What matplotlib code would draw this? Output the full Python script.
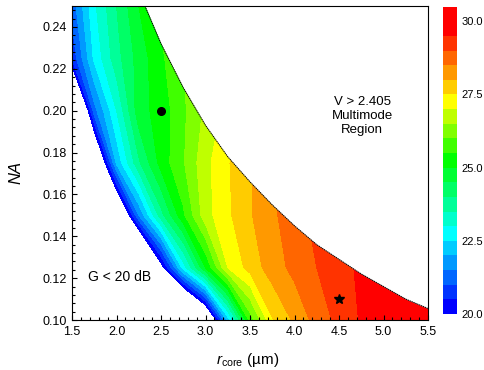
import numpy as np
import matplotlib
matplotlib.use("Agg")
import matplotlib.pyplot as plt

plt.rcParams['font.family'] = 'Liberation Sans'
plt.rcParams['mathtext.fontset'] = 'custom'
plt.rcParams['mathtext.rm'] = 'Liberation Sans'
plt.rcParams['mathtext.it'] = 'Liberation Sans:italic'

# grid: core radius (um) and numerical aperture
r_core = [1.5, 1.75, 2.0, 2.25, 2.5, 2.75, 3.0, 3.25, 3.5, 3.75, 4.0, 4.25, 4.5, 4.75, 5.0, 5.25, 5.5]
na = [0.100, 0.125, 0.150, 0.175, 0.200, 0.225, 0.250]

# gain G (dB) along each NA row
gain_na100 = [10.0, 11.0, 12.0, 13.0, 14.0, 15.5, 18.0, 22.2, 25.7, 27.45, 28.1, 28.7, 29.15, 29.55, 29.85, 30.1, 30.3]
gain_na125 = [11.0, 12.5, 14.0, 16.0, 19.6, 22.7, 25.0, 27.0, 27.7, 28.25, 28.65, 29.0, 29.3, 29.6, 29.9, 30.15, 30.4]
gain_na150 = [12.0, 14.0, 18.0, 21.5, 23.8, 25.4, 26.8, 27.4, 27.95, 28.4, 28.8, 29.15, 29.45, 29.75, 30.0, 30.2, 30.4]
gain_na175 = [13.0, 18.0, 22.1, 23.9, 25.2, 25.95, 26.85, 27.45, 27.95, 28.4, 28.75, 29.1, 29.4, 29.7, 29.95, 30.2, 30.4]
gain_na200 = [16.5, 21.3, 23.0, 24.8, 25.2, 25.9, 26.6, 27.2, 27.75, 28.2, 28.6, 28.95, 29.25, 29.55, 29.8, 30.05, 30.3]
gain_na225 = [20.6, 22.6, 23.8, 24.7, 25.4, 26.0, 26.6, 27.2, 27.7, 28.15, 28.55, 28.9, 29.2, 29.5, 29.75, 30.0, 30.25]
gain_na250 = [21.2, 22.9, 24.0, 25.0, 25.6, 26.2, 26.8, 27.3, 27.8, 28.25, 28.6, 28.95, 29.25, 29.55, 29.8, 30.05, 30.3]

# single-mode cutoff (V = 2.405) edge
edge_r = [2.32, 2.5, 2.75, 3.0, 3.25, 3.5, 3.75, 4.0, 4.25, 4.5, 4.75, 5.0, 5.25, 5.5]
edge_na = [0.250, 0.232, 0.211, 0.193, 0.178, 0.166, 0.155, 0.145, 0.136, 0.129, 0.122, 0.116, 0.110, 0.1055]

# marked designs
dot_r, dot_na = [2.5], [0.20]
star_r, star_na = [4.5], [0.11]

levels = np.arange(20.0, 30.51, 0.5)
band_colors = ['#0000ff', '#0033ff', '#0066ff', '#0099ff', '#00ccff', '#00ffff',
               '#00ffcc', '#00ff99', '#00ff66', '#00ff33', '#00ff00',
               '#40ff00', '#80ff00', '#bfff00', '#ffff00',
               '#ffcc00', '#ff9900', '#ff6600', '#ff3300', '#ff0000', '#ff0000']

G = np.array([gain_na100, gain_na125, gain_na150, gain_na175,
              gain_na200, gain_na225, gain_na250])

fig = plt.figure(figsize=(4.84, 3.70), dpi=100)
ax = fig.add_axes([0.1488, 0.1351, 0.7355, 0.8486])
cax = fig.add_axes([0.9147, 0.1514, 0.0302, 0.8305])

cs = ax.contourf(r_core, na, G, levels=levels, colors=band_colors)

# blank out the multimode region
ax.fill_between(edge_r, edge_na, 0.25, color='white', lw=0, zorder=2)
ax.plot(edge_r, edge_na, color='black', lw=0.7, ls=(0, (1.5, 0.6)), zorder=3)

ax.plot(dot_r, dot_na, 'o', color='black', ms=5.5, zorder=4)
ax.plot(star_r, star_na, '*', color='black', ms=7.5, zorder=4)

ax.text(4.76, 0.1975, 'V > 2.405\nMultimode\nRegion', ha='center', va='center',
        fontsize=9.5, linespacing=1.2)
ax.text(2.03, 0.1207, 'G < 20 dB', ha='center', va='center', fontsize=10)

ax.set_xlim(1.5, 5.5)
ax.set_ylim(0.10, 0.25)
ax.set_xticks(np.arange(1.5, 5.51, 0.5))
ax.set_yticks(np.arange(0.10, 0.241, 0.02))
ax.set_xticks(np.arange(1.5, 5.51, 0.1), minor=True)
ax.set_yticks(np.arange(0.10, 0.2501, 0.004), minor=True)
ax.xaxis.set_major_formatter(matplotlib.ticker.FormatStrFormatter('%.1f'))
ax.yaxis.set_major_formatter(matplotlib.ticker.FormatStrFormatter('%.2f'))
ax.tick_params(which='both', direction='in', top=False, right=False, labelsize=9)
ax.tick_params(which='major', length=3.6, width=0.8, pad=4)
ax.tick_params(which='minor', length=2.0, width=0.8)
for s in ax.spines.values():
    s.set_linewidth(0.8)

ax.set_ylabel('NA', fontstyle='italic', fontsize=12)
ax.yaxis.set_label_coords(-0.135, 0.47)
ax.set_xlabel(r'$r_{\mathrm{core}}$ (µm)', fontsize=11)
ax.xaxis.set_label_coords(0.494, -0.10)

cb = fig.colorbar(cs, cax=cax)
cb.set_ticks([20.0, 22.5, 25.0, 27.5, 30.0])
cb.ax.yaxis.set_major_formatter(matplotlib.ticker.FormatStrFormatter('%.1f'))
cb.ax.tick_params(length=0, labelsize=8, pad=3)
cb.outline.set_visible(False)

fig.savefig('out.png', dpi=100)
